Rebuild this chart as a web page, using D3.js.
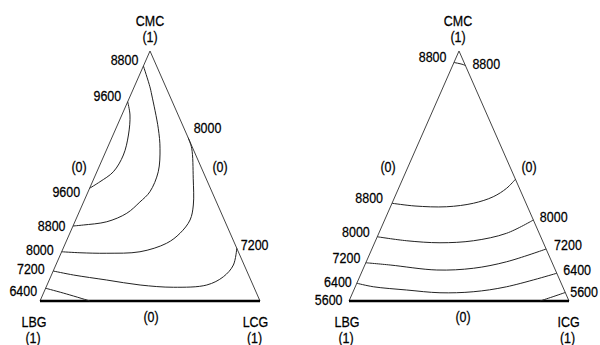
<!DOCTYPE html>
<html>
<head>
<meta charset="utf-8">
<script src="https://cdn.jsdelivr.net/npm/d3@7"></script>
<style>
  body { margin: 0; background: #fff; }
  text { font-family: "Liberation Sans", Arial, sans-serif; font-size: 14px; fill: #000; stroke: #000; stroke-width: 0.25px; }
</style>
</head>
<body>
<script>
// vertex names for each ternary plot (top, bottom-left, bottom-right)
var leftVertices = ["CMC", "LBG", "LCG"];
var rightVertices = ["CMC", "LBG", "ICG"];

// contour levels and their points as [CMC, second-bottom component] fractions
var leftLevels = [8800, 9600, 8000, 7200, 6400];
var leftContours = [
  [[0.94, 0], [0.857, 0.071], [0.824, 0.096], [0.691, 0.192], [0.611, 0.240], [0.517, 0.279], [0.437, 0.281], [0.396, 0.256], [0.351, 0.219], [0.317, 0.145], [0.304, 0.045], [0.30, 0]],
  [[0.797, 0], [0.744, 0.037], [0.664, 0.070], [0.584, 0.087], [0.517, 0.075], [0.477, 0.034], [0.451, 0]],
  [[0.653, 0.347], [0.611, 0.384], [0.491, 0.451], [0.384, 0.505], [0.324, 0.520], [0.271, 0.501], [0.231, 0.460], [0.197, 0.356], [0.191, 0.208], [0.193, 0.085], [0.197, 0]],
  [[0.211, 0.789], [0.144, 0.807], [0.097, 0.785], [0.064, 0.726], [0.055, 0.579], [0.064, 0.423], [0.084, 0.261], [0.104, 0.10], [0.12, 0]],
  [[0.051, 0], [0.028, 0.107], [0, 0.227]]
];

var rightLevels = [8800, 8800, 8000, 7200, 6400, 5600];
var rightContours = [
  [[0.954, 0], [0.95, 0.025], [0.946, 0.045], [0.942, 0.058]],
  [[0.391, 0], [0.38, 0.11], [0.377, 0.255], [0.391, 0.37], [0.417, 0.447], [0.451, 0.491], [0.487, 0.513]],
  [[0.257, 0], [0.241, 0.142], [0.233, 0.297], [0.241, 0.445], [0.271, 0.581], [0.324, 0.676]],
  [[0.153, 0], [0.144, 0.115], [0.124, 0.337], [0.131, 0.50], [0.157, 0.638], [0.208, 0.792]],
  [[0.071, 0], [0.057, 0.082], [0.044, 0.24], [0.033, 0.397], [0.037, 0.546], [0.057, 0.688], [0.111, 0.889]],
  [[0, 0.868], [0.016, 0.915], [0.034, 0.966]]
];

var vertexValue = "(1)";
var edgeValue = "(0)";

var svg = d3.select("body")
  .append("svg")
  .attr("width", 600)
  .attr("height", 345);

// label placement for contour ends: contour index, which end, anchor, offsets
var leftLabelPos = [
  {c: 0, end: 0, a: "end", dx: -5, dy: -1},
  {c: 0, end: 1, a: "end", dx: -7.5, dy: 4.5},
  {c: 1, end: 0, a: "end", dx: -6.5, dy: -0.5},
  {c: 1, end: 1, a: "end", dx: -9.5, dy: 8.5},
  {c: 2, end: 0, a: "start", dx: 5.5, dy: -4.5},
  {c: 2, end: 1, a: "end", dx: -8, dy: 3.5},
  {c: 3, end: 0, a: "start", dx: 4, dy: 1.5},
  {c: 3, end: 1, a: "end", dx: -8.5, dy: 3},
  {c: 4, end: 0, a: "end", dx: -8.5, dy: 8}
];
var rightLabelPos = [
  {c: 0, end: 0, a: "end", dx: -7.5, dy: -1},
  {c: 0, end: 1, a: "start", dx: 7, dy: 3},
  {c: 1, end: 0, a: "end", dx: -9, dy: 0},
  {c: 2, end: 0, a: "end", dx: -7.5, dy: 0},
  {c: 2, end: 1, a: "start", dx: 6.5, dy: 1.5},
  {c: 3, end: 0, a: "end", dx: -5.5, dy: 0.5},
  {c: 3, end: 1, a: "start", dx: 8, dy: 1},
  {c: 4, end: 0, a: "end", dx: -5, dy: 4},
  {c: 4, end: 1, a: "start", dx: 6.5, dy: 1.5},
  {c: 5, end: 1, a: "start", dx: 5, dy: 4},
  {c: 5, corner: true, a: "end", dx: -6.5, dy: 4}
];

drawTernary({left: 40, right: 260, top: 51, bottom: 301, vx: [0, -6, -4.5], bx: 1, ex: [-16, 15]},
  leftVertices, leftLevels, leftContours, leftLabelPos);
drawTernary({left: 349, right: 569, top: 51, bottom: 301, vx: [-1, -2, -0.5], bx: 4, ex: [-16, 15]},
  rightVertices, rightLevels, rightContours, rightLabelPos);

// text is a bit narrow in the original
function label(g, x, y, anchor, str) {
  return g.append("text")
    .attr("transform", `translate(${x},${y}) scale(0.89,1)`)
    .attr("text-anchor", anchor)
    .text(str);
}

function drawTernary(box, names, levels, contours, labelPos) {
  var xScale = d3.scaleLinear().domain([0, 1]).range([box.left, box.right]);
  var yScale = d3.scaleLinear().domain([0, 1]).range([box.bottom, box.top]);

  // ternary -> screen
  var px = d => xScale(d[1] + d[0] / 2);
  var py = d => yScale(d[0]);

  var g = svg.append("g");

  var top = [1, 0], bl = [0, 0], br = [0, 1];

  // side edges
  g.append("path")
    .attr("d", d3.line().x(px).y(py)([bl, top, br]))
    .attr("fill", "none")
    .attr("stroke", "#444")
    .attr("stroke-width", 1);

  // bottom edge is heavy
  g.append("path")
    .attr("d", d3.line().x(px).y(py)([bl, br]))
    .attr("stroke", "#000")
    .attr("stroke-width", 2.6);

  var line = d3.line()
    .x(px)
    .y(py)
    .curve(d3.curveCatmullRom.alpha(0.5));

  g.selectAll(".contour")
    .data(contours)
    .enter()
    .append("path")
    .attr("class", "contour")
    .attr("d", line)
    .attr("fill", "none")
    .attr("stroke", "#222")
    .attr("stroke-width", 1);

  // contour value labels
  labelPos.forEach(function (d) {
    var pts = contours[d.c];
    var p = d.corner ? bl : (d.end ? pts[pts.length - 1] : pts[0]);
    label(g, px(p) + d.dx, py(p) + d.dy, d.a, levels[d.c]);
  });

  // vertex names with (1)
  var verts = [top, bl, br];
  verts.forEach(function (v, i) {
    var x = px(v) + box.vx[i];
    var y0 = i == 0 ? py(v) - 25 : py(v) + 26;
    label(g, x, y0, "middle", names[i]);
    label(g, x - (i == 0 ? 0 : 1), y0 + 15.5, "middle", vertexValue);
  });

  // (0) on each edge
  label(g, xScale(0.5) + box.bx, box.bottom + 21, "middle", edgeValue);

  var midL = [0.5, 0], midR = [0.5, 0.5];
  label(g, px(midL) + box.ex[0], py(midL) - 4, "middle", edgeValue);
  label(g, px(midR) + box.ex[1], py(midR) - 4, "middle", edgeValue);
}
</script>
</body>
</html>
